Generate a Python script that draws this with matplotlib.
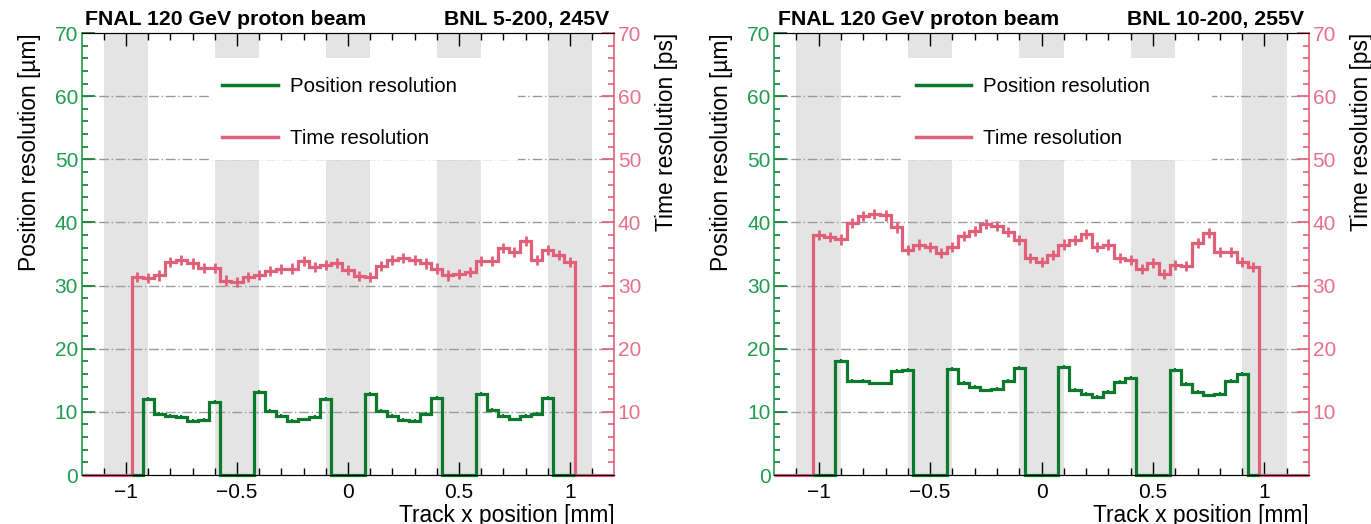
import numpy as np
import matplotlib.pyplot as plt
from matplotlib.patches import Rectangle

plt.rcParams['font.family'] = ['Liberation Sans', 'DejaVu Sans']

GREEN = '#0b7a2c'
GREEN_TXT = '#1f9c4e'
PINK = '#e0607a'
PINK_TXT = '#e8708a'
BAND = '#e4e4e4'

# sensor strip positions (gray bands), half width 0.1 mm
band_centres = [-1.0, -0.5, 0.0, 0.5, 1.0]

# ---- left panel : BNL 5-200, 245V ----
left_time_start = -0.975
left_time = [31.4, 31.2, 31.6, 33.7, 34.0, 33.5, 32.8, 32.8, 30.8, 30.5,
             31.4, 31.7, 32.3, 32.6, 32.7, 33.9, 32.9, 33.3, 33.6, 32.5,
             31.5, 31.4, 33.1, 34.0, 34.4, 34.1, 33.5, 32.7, 31.6, 31.9,
             32.1, 33.9, 33.9, 36.0, 35.3, 37.0, 34.0, 35.7, 34.9, 33.7]
left_pos = [0.0, 12.1, 9.6, 9.3, 9.2, 8.5, 8.7, 11.5, 0.0, 0.0,
            0.0, 13.1, 10.1, 9.3, 8.6, 8.8, 9.2, 12.0, 0.0, 0.0,
            0.0, 12.9, 10.1, 9.4, 8.7, 8.5, 9.6, 12.2, 0.0, 0.0,
            0.0, 12.8, 10.3, 9.4, 8.8, 9.3, 9.6, 12.2, 0.0, 0.0]

# ---- right panel : BNL 10-200, 255V ----
right_time_start = -1.025
right_time = [38.0, 37.7, 37.3, 39.9, 41.0, 41.3, 41.1, 39.2, 35.6, 36.5,
              36.1, 35.2, 36.1, 37.8, 38.7, 39.8, 39.5, 38.5, 37.2, 34.3,
              33.8, 34.8, 36.5, 37.2, 38.1, 36.1, 36.5, 34.3, 34.1, 32.6,
              33.6, 31.8, 33.2, 33.1, 36.8, 38.3, 35.3, 35.3, 33.7, 32.9]
right_pos = [0.0, 0.0, 18.0, 14.9, 14.9, 14.5, 14.5, 16.5, 16.6, 0.0,
             0.0, 0.0, 16.8, 14.6, 14.0, 13.4, 13.7, 14.9, 17.0, 0.0,
             0.0, 0.0, 17.1, 13.5, 12.8, 12.3, 13.2, 14.8, 15.4, 0.0,
             0.0, 0.0, 16.6, 14.4, 13.1, 12.6, 12.9, 14.9, 16.0, 0.0]

time_err = 0.8
pos_err = 0.3
bin_w = 0.05
grid_levels = [10, 20, 30, 40, 50, 60]

TICK_FS = 15
LABEL_FS = 16.4


def draw_panel(fig, rect, t_start, t_vals, p_vals, tag):
    ax = fig.add_axes(rect)
    ax.set_xlim(-1.2, 1.2)
    ax.set_ylim(0, 70)

    for c in band_centres:
        ax.axvspan(c - 0.1, c + 0.1, color=BAND, lw=0, zorder=0)
    for g in grid_levels:
        ax.axhline(g, color='#9a9a9a', lw=1.0, ls=(0, (7, 2, 1, 2)), zorder=1)

    # white legend area
    ax.add_patch(Rectangle((0.241, 0.713), 0.578, 0.23, transform=ax.transAxes,
                           facecolor='white', edgecolor='none', zorder=2))

    n = len(t_vals)
    edges = t_start + bin_w * np.arange(n + 1)
    centres = edges[:-1] + bin_w / 2
    t = np.array(t_vals)
    p = np.array(p_vals)

    ax.stairs(np.r_[0, t, 0], np.r_[-1.2, edges, 1.2], color=PINK, lw=2.3,
              zorder=3, clip_on=False, label='Time resolution')
    ax.errorbar(centres, t, yerr=time_err, fmt='none', ecolor=PINK, elinewidth=2.0, zorder=3)
    ax.stairs(p, edges, color=GREEN, lw=2.3, zorder=4, clip_on=False,
              label='Position resolution')
    nz = p > 0
    ax.errorbar(centres[nz], p[nz], yerr=pos_err, fmt='none', ecolor=GREEN, elinewidth=1.5, zorder=4)

    h, l = ax.get_legend_handles_labels()
    leg = ax.legend(h[::-1], l[::-1], loc='upper left', bbox_to_anchor=(0.2645, 0.90),
                    frameon=False, fontsize=14.8, handlelength=2.7, handletextpad=0.57,
                    labelspacing=1.6, borderpad=0, borderaxespad=0)
    for lh in leg.get_lines():
        lh.set_linewidth(2.5)

    # x axis
    ax.set_xticks([-1, -0.5, 0, 0.5, 1])
    ax.set_xticklabels(['\u22121', '\u22120.5', '0', '0.5', '1'])
    ax.set_xticks(np.arange(-1.1, 1.11, 0.1), minor=True)
    ax.tick_params(axis='x', which='both', direction='in', top=True, labelsize=TICK_FS, pad=6)
    ax.tick_params(axis='x', which='major', length=9.5, width=1)
    ax.tick_params(axis='x', which='minor', length=5, width=1)
    ax.set_xlabel('Track x position [mm]', loc='right', fontsize=LABEL_FS, labelpad=1)

    # left y axis
    ax.set_yticks(np.arange(0, 71, 10))
    ax.set_yticks(np.arange(0, 71, 2), minor=True)
    ax.tick_params(axis='y', which='both', direction='in', colors=GREEN, labelcolor=GREEN_TXT,
                   labelsize=TICK_FS, pad=2.5)
    ax.tick_params(axis='y', which='major', length=9, width=1.2)
    ax.tick_params(axis='y', which='minor', length=4.5, width=1.2)
    ax.spines['left'].set_color(GREEN_TXT)
    ax.spines['left'].set_linewidth(1.2)
    ax.spines['right'].set_visible(False)
    ax.set_ylabel('Position resolution [\u00b5m]', loc='top', fontsize=LABEL_FS, labelpad=10)

    # right y axis
    ax2 = ax.twinx()
    ax2.set_ylim(0, 70)
    ax2.set_yticks(np.arange(0, 71, 10))
    ax2.set_yticklabels([''] + [str(v) for v in range(10, 71, 10)])
    ax2.set_yticks(np.arange(0, 71, 2), minor=True)
    ax2.tick_params(axis='y', which='both', direction='in', colors=PINK, labelcolor=PINK_TXT,
                    labelsize=TICK_FS, pad=2.5)
    ax2.tick_params(axis='y', which='major', length=9, width=1.2)
    ax2.tick_params(axis='y', which='minor', length=4.5, width=1.2)
    ax2.spines['right'].set_color(PINK)
    ax2.spines['right'].set_linewidth(1.2)
    ax2.spines['left'].set_visible(False)
    ax2.set_ylabel('Time resolution [ps]', loc='top', fontsize=LABEL_FS, labelpad=10)

    ax.text(0.007, 1.01, 'FNAL 120 GeV proton beam', transform=ax.transAxes,
            fontsize=15.3, fontweight='bold', ha='left', va='bottom')
    ax.text(0.99, 1.01, tag, transform=ax.transAxes,
            fontsize=15.3, fontweight='bold', ha='right', va='bottom')
    return ax


fig = plt.figure(figsize=(13.71, 5.24), dpi=100)
draw_panel(fig, [0.0595, 0.0935, 0.3886, 0.8435], left_time_start, left_time, left_pos,
           'BNL 5-200, 245V')
draw_panel(fig, [0.5646, 0.0935, 0.3902, 0.8435], right_time_start, right_time, right_pos,
           'BNL 10-200, 255V')
fig.savefig('out.png', dpi=100)
